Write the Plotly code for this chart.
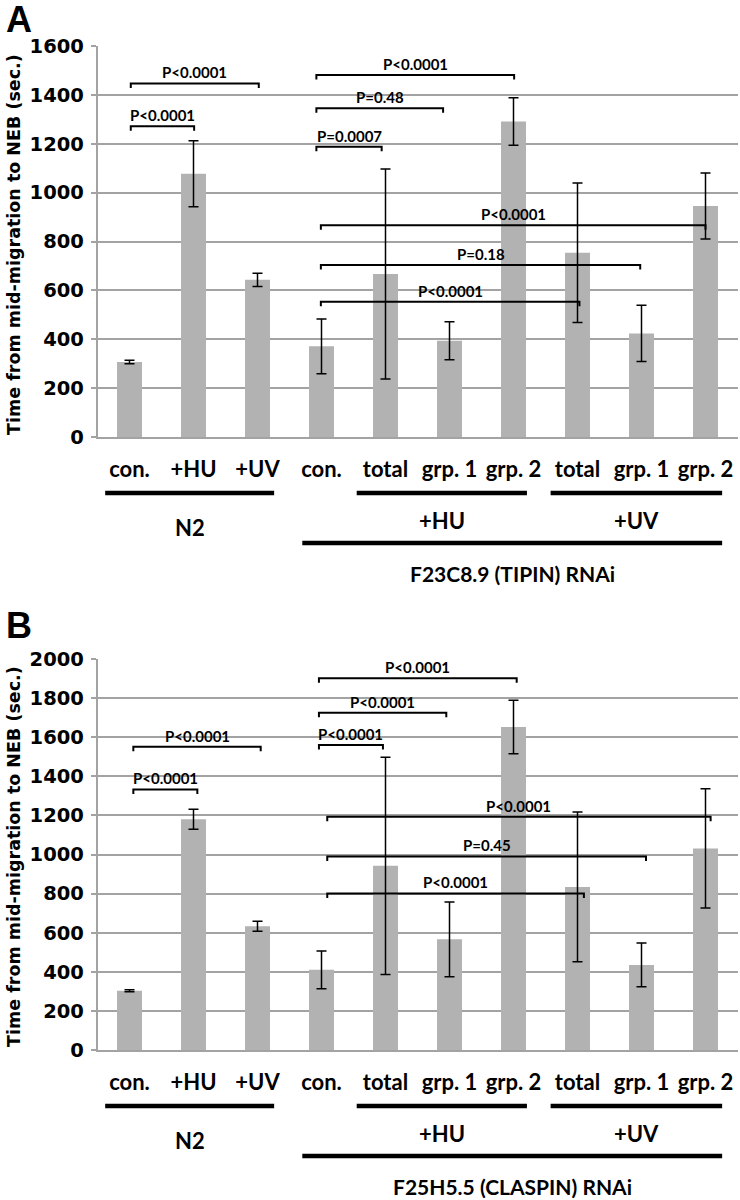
import plotly.graph_objects as go

# ---------------- data ----------------
categories = ["con.", "+HU", "+UV", "con.", "total", "grp. 1", "grp. 2", "total", "grp. 1", "grp. 2"]
positions = list(range(len(categories)))

a_means = [307, 1077, 643, 371, 667, 394, 1291, 754, 424, 945]
a_errors = [7, 135, 27, 112, 430, 78, 97, 285, 115, 135]
b_means = [303, 1180, 633, 410, 942, 566, 1652, 834, 435, 1031]
b_errors = [5, 51, 25, 97, 556, 191, 137, 383, 112, 305]

a_ticks = [0, 200, 400, 600, 800, 1000, 1200, 1400, 1600]
b_ticks = [0, 200, 400, 600, 800, 1000, 1200, 1400, 1600, 1800, 2000]

# significance brackets: start category, end category, level, label
a_br_x0 = [0.02, 0.02, 2.92, 2.92, 2.92, 2.99, 2.99, 2.99]
a_br_x1 = [1.01, 2.02, 3.94, 4.90, 6.01, 9.00, 7.98, 7.03]
a_br_y = [1272, 1447, 1188, 1345, 1481, 867, 704, 553]
a_br_text = ["P<0.0001", "P<0.0001", "P=0.0007", "P=0.48", "P<0.0001", "P<0.0001", "P=0.18", "P<0.0001"]

b_br_x0 = [0.06, 0.06, 2.96, 2.96, 2.96, 3.09, 3.09, 3.09]
b_br_x1 = [1.06, 2.05, 3.96, 4.95, 6.05, 9.08, 8.07, 7.10]
b_br_y = [1333, 1551, 1560, 1725, 1901, 1193, 990, 801]
b_br_text = ["P<0.0001", "P<0.0001", "P<0.0001", "P<0.0001", "P<0.0001", "P<0.0001", "P=0.45", "P<0.0001"]

group_labels = ["N2", "+HU", "+UV"]
group_start = [-0.38, 3.55, 6.58]
group_end = [2.26, 6.21, 9.26]
rnai_start = 2.70
rnai_end = 9.26
a_rnai_label = "F23C8.9 (TIPIN) RNAi"
b_rnai_label = "F25H5.5 (CLASPIN) RNAi"
y_title = "Time from mid-migration to NEB (sec.)"

# ---------------- layout helpers ----------------
W, H = 740, 1200
PLOT_L, PLOT_R = 97.5, 737.5


def py(p):
    return 1 - p / H


def px(p):
    return p / W


BAR = "#b2b2b2"
GRID = "#a3a3a3"
CAL = "Lato"
VER = "DejaVu Sans"

panels = [
    dict(means=a_means, errs=a_errors, ticks=a_ticks, rng=1600, top=46, bot=437,
         bx0=a_br_x0, bx1=a_br_x1, by=a_br_y, bt=a_br_text, rnai=a_rnai_label,
         letter="A", letter_y=19.5, title_y=245, xa="x", ya="y"),
    dict(means=b_means, errs=b_errors, ticks=b_ticks, rng=2000, top=659, bot=1050,
         bx0=b_br_x0, bx1=b_br_x1, by=b_br_y, bt=b_br_text, rnai=b_rnai_label,
         letter="B", letter_y=625.5, title_y=857, xa="x2", ya="y2"),
]

fig = go.Figure()
shapes = []
annotations = []
layout_axes = {}

for k, p in enumerate(panels):
    fig.add_trace(go.Bar(
        x=positions, y=p["means"], xaxis=p["xa"], yaxis=p["ya"],
        marker=dict(color=BAR, line=dict(width=0)),
        error_y=dict(type="data", array=p["errs"], visible=True,
                     color="black", thickness=1.5, width=5),
        showlegend=False, hoverinfo="skip",
    ))
    xname = "xaxis" if k == 0 else "xaxis2"
    yname = "yaxis" if k == 0 else "yaxis2"
    layout_axes[xname] = dict(
        domain=[px(PLOT_L), px(PLOT_R)], range=[-0.5, 9.5], anchor=p["ya"],
        tickmode="array", tickvals=positions, ticktext=categories,
        ticks="", showline=True, linecolor=GRID, linewidth=1.5,
        showgrid=False, zeroline=False, fixedrange=True, automargin=False,
        tickfont=dict(family=CAL, size=22, color="black", weight="bold"),
        ticklabelstandoff=12,
    )
    layout_axes[yname] = dict(
        domain=[py(p["bot"]), py(p["top"])], range=[0, p["rng"]], anchor=p["xa"],
        tickmode="array", tickvals=p["ticks"],
        ticks="outside", ticklen=5, tickwidth=1.5, tickcolor=GRID,
        showline=True, linecolor=GRID, linewidth=1.5,
        showgrid=True, gridcolor=GRID, gridwidth=1.5, zeroline=False,
        tickfont=dict(family=VER, size=19.5, color="black", weight="bold"),
        ticklabelstandoff=3, fixedrange=True, automargin=False,
    )

    # significance brackets
    unit_px = (p["bot"] - p["top"]) / p["rng"]
    drop = 4.5 / unit_px
    for x0, x1, yv, t in zip(p["bx0"], p["bx1"], p["by"], p["bt"]):
        shapes.append(dict(
            type="path", xref=p["xa"], yref=p["ya"],
            path=f"M {x0},{yv - drop} L {x0},{yv} L {x1},{yv} L {x1},{yv - drop}",
            line=dict(color="black", width=2),
        ))
        annotations.append(dict(
            x=(x0 + x1) / 2, y=yv, xref=p["xa"], yref=p["ya"], text=t,
            showarrow=False, xanchor="center", yanchor="bottom", yshift=0,
            font=dict(family=CAL, size=15, color="black", weight="bold"),
        ))

    # group underlines and labels
    base = p["bot"]
    for g, s, e in zip(group_labels, group_start, group_end):
        shapes.append(dict(type="line", xref=p["xa"], yref="paper",
                           x0=s, x1=e, y0=py(base + 56), y1=py(base + 56),
                           line=dict(color="black", width=4.5)))
        gy = base + (90 if g == "N2" else 83)
        annotations.append(dict(
            x=(s + e) / 2, y=py(gy), xref=p["xa"], yref="paper", text=g,
            showarrow=False, xanchor="center", yanchor="middle",
            font=dict(family=CAL, size=22, color="black", weight="bold"),
        ))
    shapes.append(dict(type="line", xref=p["xa"], yref="paper",
                       x0=rnai_start, x1=rnai_end, y0=py(base + 106), y1=py(base + 106),
                       line=dict(color="black", width=4.5)))
    annotations.append(dict(
        x=(rnai_start + rnai_end) / 2, y=py(base + 136), xref=p["xa"], yref="paper",
        text=p["rnai"], showarrow=False, xanchor="center", yanchor="middle",
        font=dict(family=CAL, size=21, color="black", weight="bold"),
    ))

    # y-axis title
    annotations.append(dict(
        x=px(14), y=py(p["title_y"]), xref="paper", yref="paper", text=y_title,
        textangle=-90, showarrow=False, xanchor="center", yanchor="middle",
        font=dict(family=VER, size=17.5, color="black", weight="bold"),
    ))
    # panel letter
    annotations.append(dict(
        x=px(4), y=py(p["letter_y"]), xref="paper", yref="paper", text=p["letter"],
        showarrow=False, xanchor="left", yanchor="middle",
        font=dict(family="Liberation Sans", size=36, color="black", weight="bold"),
    ))

fig.update_layout(
    width=W, height=H,
    margin=dict(l=0, r=0, t=0, b=0, pad=0, autoexpand=False),
    paper_bgcolor="white", plot_bgcolor="white",
    bargap=0.61,
    shapes=shapes, annotations=annotations,
    showlegend=False,
    **layout_axes,
)

fig.write_html(
    "out.html",
    config={"displayModeBar": False},
    post_script="document.body.style.margin='0';document.body.style.overflow='hidden';",
)
